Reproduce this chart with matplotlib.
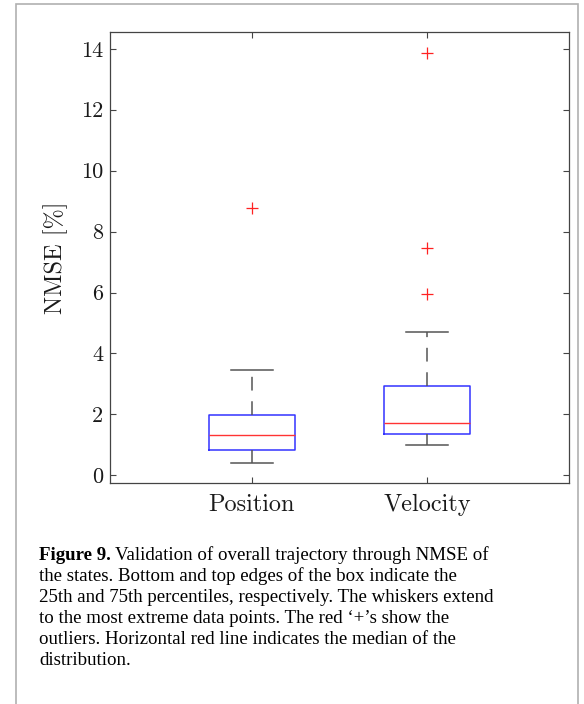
import numpy as np
import matplotlib
matplotlib.use('Agg')
import matplotlib.pyplot as plt
from matplotlib.patches import Rectangle

# values
labels = ['Position', 'Velocity']
q1 = [0.83, 1.37]
med = [1.33, 1.71]
q3 = [1.98, 2.93]
whislo = [0.42, 1.01]
whishi = [3.45, 4.70]
fliers = [[8.79], [13.86, 7.45, 5.94]]
yticks = [0, 2, 4, 6, 8, 10, 12, 14]

plt.rcParams['font.family'] = 'cmr10'
plt.rcParams['mathtext.fontset'] = 'cm'
plt.rcParams['axes.unicode_minus'] = False

fig = plt.figure(figsize=(5.84, 7.04), dpi=100)
W, H = 584, 704

ax = fig.add_axes([110 / W, 1 - 483 / H, (569 - 110) / W, (483 - 32) / H])

stats = []
for i in range(len(labels)):
    stats.append(dict(label=labels[i], q1=q1[i], med=med[i], q3=q3[i],
                      whislo=whislo[i], whishi=whishi[i], fliers=fliers[i]))

axis_col = '#444444'
ax.bxp(stats, positions=[1, 2], widths=0.49, showfliers=True,
       boxprops=dict(color='#3333ff', linewidth=1.1),
       medianprops=dict(color='#ff3333', linewidth=1.0),
       whiskerprops=dict(color='#555555', linewidth=1.1, linestyle=(0, (9, 7))),
       capprops=dict(color='#555555', linewidth=1.1),
       capwidths=0.24,
       flierprops=dict(marker='+', markeredgecolor='#ff2222', markersize=9,
                       markeredgewidth=0.9, linestyle='none'))

ax.set_xlim(0.19, 2.81)
ax.set_ylim(-0.25, 14.55)
ax.set_yticks(yticks)
ax.set_yticklabels([str(v) for v in yticks])
ax.set_xticks([1, 2])
ax.set_xticklabels(labels)
ax.tick_params(direction='in', length=4, width=0.8, color=axis_col,
               top=True, right=True, labelsize=16, labelcolor='#1a1a1a', pad=5)
ax.tick_params(axis='x', pad=8, labelsize=17.5)
for sp in ax.spines.values():
    sp.set_color(axis_col)
    sp.set_linewidth(0.9)
ax.set_ylabel('NMSE [%]', fontsize=17.5, color='#1a1a1a', labelpad=9)

# outer frame
fig.patches.append(Rectangle((16 / W, -0.05), (578 - 16) / W, 1.05 - 4 / H,
                             transform=fig.transFigure, fill=False,
                             edgecolor='#b0b0b0', linewidth=1.2))

# caption
cap_font = dict(family='Liberation Serif', size=13.6, color='#000000')
x0 = 39 / W
y0 = 1 - 560 / H
dy = 21 / H
first = fig.text(x0, y0, 'Figure 9.', fontweight='bold', va='baseline', **cap_font)
fig.canvas.draw()
bb = first.get_window_extent(renderer=fig.canvas.get_renderer())
fig.text(bb.x1 / W + 4 / W, y0, 'Validation of overall trajectory through NMSE of',
         va='baseline', **cap_font)
lines = ['the states. Bottom and top edges of the box indicate the',
         '25th and 75th percentiles, respectively. The whiskers extend',
         'to the most extreme data points. The red \u2018+\u2019s show the',
         'outliers. Horizontal red line indicates the median of the',
         'distribution.']
for k, line in enumerate(lines):
    fig.text(x0, y0 - (k + 1) * dy, line, va='baseline', **cap_font)

fig.savefig('out.png', dpi=100)
